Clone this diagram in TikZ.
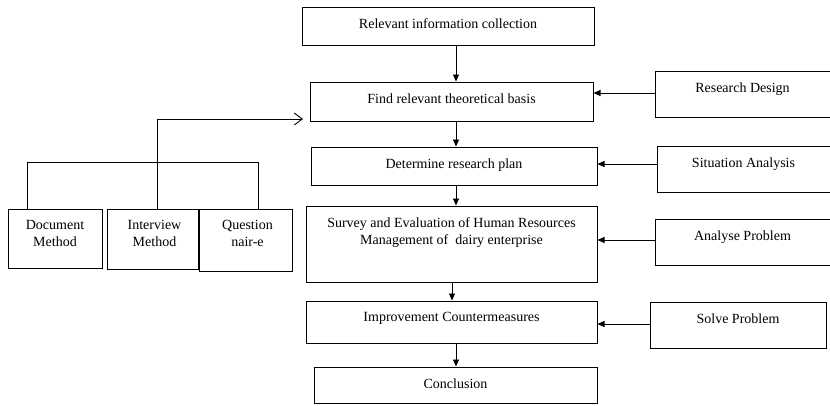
\documentclass[tikz,border=0pt]{standalone}
\usepackage{fontspec}
\setmainfont{Liberation Serif}
\usetikzlibrary{arrows.meta}

\begin{document}
\begin{tikzpicture}[
  x=1pt, y=-1pt,
  font=\rmfamily\fontsize{14}{17}\selectfont,
  box/.style={draw, line width=1pt, inner sep=0pt},
  tag/.style={anchor=north, yshift=-8.5pt, align=center},
  flow/.style={line width=0.9pt, -{Triangle[length=7pt, width=6pt]}},
  feed/.style={line width=0.9pt, -{Straight Barb[length=8pt, width=12pt]}}
]
  \useasboundingbox (0,0) rectangle (830,405);

  % main column
  \node[box, minimum width=292pt, minimum height=38pt, label={[tag]north:Relevant information collection}] (info) at (448,26) {};
  \node[box, minimum width=283pt, minimum height=39pt, label={[tag]north:Find relevant theoretical basis}] (basis) at (451.5,101.5) {};
  \node[box, minimum width=286pt, minimum height=38pt, label={[tag]north:Determine research plan}] (plan) at (454,166) {};
  \node[box, minimum width=291pt, minimum height=76pt, label={[tag]north:Survey and Evaluation of Human Resources\\Management of~ dairy enterprise}] (survey) at (451.5,244) {};
  \node[box, minimum width=291pt, minimum height=42pt, label={[tag]north:Improvement Countermeasures}] (improve) at (451.5,322) {};
  \node[box, minimum width=283pt, minimum height=36pt, label={[tag]north:Conclusion}] (concl) at (455.5,385) {};

  % right column
  \node[box, minimum width=175pt, minimum height=46pt, label={[tag]north:Research Design}] (design) at (742.5,94) {};
  \node[box, minimum width=173pt, minimum height=46pt, label={[tag]north:Situation Analysis}] (situation) at (743.5,169) {};
  \node[box, minimum width=175pt, minimum height=46pt, label={[tag]north:Analyse Problem}] (analyse) at (742.5,242) {};
  \node[box, minimum width=176pt, minimum height=46pt, label={[tag]north:Solve Problem}] (solve) at (738,325) {};

  % left methods
  \node[box, minimum width=94pt, minimum height=59pt, label={[tag]north:Document\\Method}] (document) at (55,238.5) {};
  \node[box, minimum width=91pt, minimum height=60pt, label={[tag, xshift=2pt]north:Interview\\Method}] (interview) at (152.5,239) {};
  \node[box, minimum width=93pt, minimum height=62pt, label={[tag, xshift=2pt]north:Question\\nair-e}] (quest) at (245.5,240) {};

  % down the column
  \coordinate (spine) at (456,0);
  \draw[flow] (spine |- info.south) -- (spine |- basis.north);
  \draw[flow] (spine |- basis.south) -- (spine |- plan.north);
  \draw[flow] (spine |- plan.south) -- (spine |- survey.north);
  \draw[flow] ([xshift=-4pt]spine |- survey.south) -- ([xshift=-4pt]spine |- improve.north);
  \draw[flow] (spine |- improve.south) -- (spine |- concl.north);

  % from the right
  \draw[flow] ([yshift=1pt]design.west) -- ([yshift=1pt]design.west -| basis.east);
  \draw[flow] ([yshift=5pt]situation.west) -- ([yshift=5pt]situation.west -| plan.east);
  \draw[flow] ([yshift=2pt]analyse.west) -- ([yshift=2pt]analyse.west -| survey.east);
  \draw[flow] ([yshift=1pt]solve.west) -- ([yshift=1pt]solve.west -| improve.east);

  % methods bus
  \coordinate (busL) at (27,162);
  \coordinate (busR) at (258,162);
  \coordinate (tap) at (157,119);
  \coordinate (entry) at (303,119);
  \draw[line width=0.9pt] (busL |- document.north) -- (busL) -- (busR) -- (busR |- quest.north);
  \draw[feed] (tap |- interview.north) -- (tap) -- (entry);
\end{tikzpicture}
\end{document}
